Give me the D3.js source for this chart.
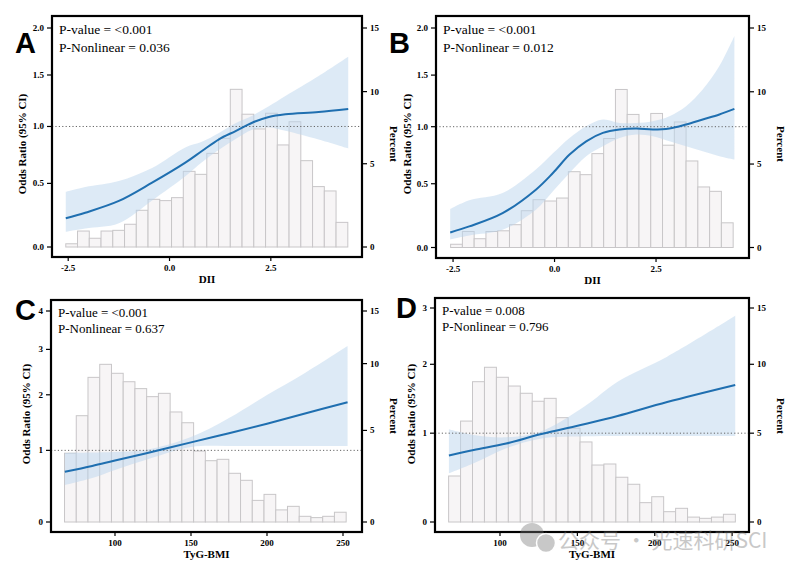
<!DOCTYPE html>
<html>
<head>
<meta charset="utf-8">
<script src="https://cdn.jsdelivr.net/npm/d3@7"></script>
<style>
body { margin: 0; background: #fff; }
svg { display: block; }
</style>
</head>
<body>
<div class="chart"></div>
<script>
// ---- histogram data (percent per bin) ----
const diiBinStart = -2.56, diiBinWidth = 0.29;
const diiPct = [0.18, 0.90, 0.49, 0.90, 0.94, 1.29, 2.11, 2.77, 2.69, 2.87, 4.51, 4.32,
                5.68, 6.69, 10.17, 8.36, 7.33, 8.43, 6.24, 7.83, 5.20, 3.55, 3.28, 1.40];
const tygBinStart = 66.8, tygBinWidth = 7.72;
const tygPctC = [3.58, 5.99, 8.86, 9.94, 9.19, 8.51, 7.97, 7.36, 7.61, 6.25, 5.51, 3.71,
                 3.14, 3.22, 2.43, 2.05, 1.02, 1.32, 0.56, 0.73, 0.26, 0.20, 0.26, 0.45];
const tygPctD = [2.41, 5.80, 8.63, 9.76, 8.97, 8.30, 7.76, 7.18, 7.39, 6.03, 5.32, 4.44,
                 3.04, 3.10, 2.34, 1.95, 0.97, 1.28, 0.51, 0.68, 0.24, 0.18, 0.24, 0.38];

// ---- spline curves: OR and 95% CI ----
const xA  = [-2.56, -2.08, -1.25, -0.43, 0.39, 0.80, 1.22, 1.63, 2.04, 2.45, 2.86, 3.68, 4.41];
const orA = [0.218, 0.262, 0.356, 0.506, 0.676, 0.778, 0.883, 0.958, 1.035, 1.089, 1.114, 1.136, 1.165];
const hiA = [0.43, 0.47, 0.52, 0.63, 0.81, 0.86, 0.94, 1.03, 1.10, 1.19, 1.29, 1.49, 1.69];
const loA = [0.115, 0.14, 0.18, 0.36, 0.56, 0.68, 0.79, 0.885, 0.97, 0.99, 0.96, 0.88, 0.80];

const xB  = [-2.57, -2.10, -1.28, -0.46, -0.04, 0.37, 0.78, 1.19, 1.60, 2.01, 2.42, 2.83, 3.24, 3.65, 4.06, 4.43];
const orB = [0.113, 0.159, 0.262, 0.451, 0.590, 0.749, 0.867, 0.943, 0.974, 0.983, 0.974, 0.983, 1.020, 1.067, 1.114, 1.167];
const hiB = [0.294, 0.364, 0.423, 0.619, 0.760, 0.897, 1.004, 1.067, 1.035, 1.035, 1.051, 1.098, 1.193, 1.356, 1.592, 1.912];
const loB = [0.060, 0.090, 0.133, 0.289, 0.437, 0.590, 0.734, 0.822, 0.897, 0.928, 0.913, 0.867, 0.822, 0.778, 0.734, 0.705];

const xC  = [67, 85, 100, 120, 150, 175, 200, 225, 253];
const orC = [0.671, 0.757, 0.840, 0.950, 1.130, 1.285, 1.452, 1.638, 1.852];
const hiC = [0.958, 0.965, 0.974, 1.006, 1.22, 1.555, 1.996, 2.458, 3.08];
const loC = [0.481, 0.580, 0.697, 0.848, 1.054, 1.071, 1.071, 1.071, 1.07];

const xD  = [67, 83, 104, 126, 155, 176, 208, 252];
const orD = [0.721, 0.788, 0.868, 0.985, 1.121, 1.229, 1.425, 1.676];
const hiD = [1.051, 0.977, 0.947, 1.019, 1.368, 1.726, 2.125, 2.852];
const loD = [0.512, 0.628, 0.809, 0.93, 0.96, 0.965, 0.965, 0.965];

const pValues = ['<0.001', '<0.001', '<0.001', '0.008'];
const pNonlinear = ['0.036', '0.012', '0.637', '0.796'];

// ---- panel layout ----
const panels = [
  {letter: 'A', lx: 15, ly: 53, box: [52, 16, 362, 257], xDom: [-2.90, 4.75], xTicks: [-2.5, 0, 2.5], xFmt: d => d.toFixed(1),
   xTitle: 'DII', orMax: 2, orConst: 4, pctConst: 30, y0: 247, y1: 28, orTicks: [0, 0.5, 1, 1.5, 2], orFmt: d => d.toFixed(1),
   pct: diiPct, binStart: diiBinStart, binWidth: diiBinWidth, cx: xA, or: orA, lo: loA, hi: hiA,
   ytx: 22, yty: 144, rty: 144, pDy: [18, 36], pSize: 13.5},
  {letter: 'B', lx: 389, ly: 53, box: [436, 16, 749, 258], xDom: [-2.92, 4.79], xTicks: [-2.5, 0, 2.5], xFmt: d => d.toFixed(1),
   xTitle: 'DII', orMax: 2, orConst: 4, pctConst: 30, y0: 247.5, y1: 28, orTicks: [0, 0.5, 1, 1.5, 2], orFmt: d => d.toFixed(1),
   pct: diiPct, binStart: diiBinStart, binWidth: diiBinWidth, cx: xB, or: orB, lo: loB, hi: hiB,
   ytx: 407, yty: 144, rty: 144, pDy: [18, 36], pSize: 13.5},
  {letter: 'C', lx: 15, ly: 320, box: [51, 300, 362, 532], xDom: [57.9, 262.5], xTicks: [100, 150, 200, 250], xFmt: d3.format('d'),
   xTitle: 'TyG-BMI', orMax: 4, orConst: 3, pctConst: 11.25, y0: 522, y1: 311, orTicks: [0, 1, 2, 3, 4], orFmt: d3.format('d'),
   pct: tygPctC, binStart: tygBinStart, binWidth: tygBinWidth, cx: xC, or: orC, lo: loC, hi: hiC,
   ytx: 26, yty: 414, rty: 416, pDy: [17, 33], pSize: 13},
  {letter: 'D', lx: 396, ly: 318, box: [435, 298, 749, 532], xDom: [58.0, 260.9], xTicks: [100, 150, 200, 250], xFmt: d3.format('d'),
   xTitle: 'TyG-BMI', orMax: 3, orConst: 3, pctConst: 15, y0: 522, y1: 308, orTicks: [0, 1, 2, 3], orFmt: d3.format('d'),
   pct: tygPctD, binStart: tygBinStart, binWidth: tygBinWidth, cx: xD, or: orD, lo: loD, hi: hiD,
   ytx: 411, yty: 414, rty: 416, pDy: [17, 33], pSize: 13}
];

const width = 800, height = 570;
const svg = d3.select('.chart').append('svg')
    .attr('width', width)
    .attr('height', height);

const serif = "'Liberation Serif', 'DejaVu Serif', serif";

panels.forEach(function(p, k) {
    const [bx0, by0, bx1, by1] = p.box;
    const g = svg.append('g');

    const x = d3.scaleLinear().domain(p.xDom).range([bx0, bx1]);
    const yL = d3.scaleSymlog().constant(p.orConst).domain([0, p.orMax]).range([p.y0, p.y1]);
    const yR = d3.scaleSymlog().constant(p.pctConst).domain([0, 15]).range([p.y0, p.y1]);

    // histogram
    g.selectAll('rect.bar')
        .data(p.pct)
        .enter()
        .append('rect')
        .attr('class', 'bar')
        .attr('x', (d, i) => x(p.binStart + i * p.binWidth))
        .attr('width', (d, i) => x(p.binStart + (i + 1) * p.binWidth) - x(p.binStart + i * p.binWidth))
        .attr('y', d => yR(d))
        .attr('height', d => yR(0) - yR(d))
        .attr('fill', '#f7f5f6')
        .attr('stroke', '#c8c6c8')
        .attr('stroke-width', 1);

    const pts = p.cx.map((v, i) => ({x: v, or: p.or[i], lo: p.lo[i], hi: p.hi[i]}));

    // confidence band
    const area = d3.area()
        .x(d => x(d.x))
        .y0(d => yL(d.lo))
        .y1(d => yL(d.hi))
        .curve(d3.curveCatmullRom.alpha(0.5));
    g.append('path')
        .datum(pts)
        .attr('d', area)
        .attr('fill', '#bcd6ee')
        .attr('fill-opacity', 0.5);

    // reference line at OR = 1
    g.append('line')
        .attr('x1', bx0).attr('x2', bx1)
        .attr('y1', yL(1)).attr('y2', yL(1))
        .attr('stroke', '#666')
        .attr('stroke-width', 1)
        .attr('stroke-dasharray', '1.2,2.2');

    // OR curve
    const line = d3.line()
        .x(d => x(d.x))
        .y(d => yL(d.or))
        .curve(d3.curveCatmullRom.alpha(0.5));
    g.append('path')
        .datum(pts)
        .attr('d', line)
        .attr('fill', 'none')
        .attr('stroke', '#1f6fb0')
        .attr('stroke-width', 2);

    // left axis (odds ratio)
    p.orTicks.forEach(function(t) {
        g.append('line')
            .attr('x1', bx0 - 5).attr('x2', bx0)
            .attr('y1', yL(t)).attr('y2', yL(t))
            .attr('stroke', '#000').attr('stroke-width', 1.2);
        g.append('text')
            .text(p.orFmt(t))
            .attr('x', bx0 - 8)
            .attr('y', yL(t) + 3)
            .attr('text-anchor', 'end')
            .attr('font-family', serif)
            .attr('font-weight', 'bold')
            .attr('font-size', 9);
    });

    // right axis (percent)
    [0, 5, 10, 15].forEach(function(t) {
        g.append('line')
            .attr('x1', bx1).attr('x2', bx1 + 5)
            .attr('y1', yR(t)).attr('y2', yR(t))
            .attr('stroke', '#000').attr('stroke-width', 1.2);
        g.append('text')
            .text(t)
            .attr('x', bx1 + 8)
            .attr('y', yR(t) + 3)
            .attr('font-family', serif)
            .attr('font-weight', 'bold')
            .attr('font-size', 9);
    });

    // bottom axis
    p.xTicks.forEach(function(t) {
        g.append('line')
            .attr('x1', x(t)).attr('x2', x(t))
            .attr('y1', by1).attr('y2', by1 + 4)
            .attr('stroke', '#000').attr('stroke-width', 1.2);
        g.append('text')
            .text(p.xFmt(t))
            .attr('x', x(t))
            .attr('y', by1 + 14)
            .attr('text-anchor', 'middle')
            .attr('font-family', serif)
            .attr('font-weight', 'bold')
            .attr('font-size', 9);
    });

    // frame
    g.append('rect')
        .attr('x', bx0).attr('y', by0)
        .attr('width', bx1 - bx0).attr('height', by1 - by0)
        .attr('fill', 'none')
        .attr('stroke', '#000')
        .attr('stroke-width', 2.2);

    // axis titles
    g.append('text')
        .text(p.xTitle)
        .attr('x', (bx0 + bx1) / 2)
        .attr('y', by1 + 26)
        .attr('text-anchor', 'middle')
        .attr('font-family', serif)
        .attr('font-weight', 'bold')
        .attr('font-size', 11);
    g.append('text')
        .text('Odds Ratio (95% CI)')
        .attr('transform', 'translate(' + (p.ytx + 4) + ',' + p.yty + ') rotate(-90)')
        .attr('text-anchor', 'middle')
        .attr('font-family', serif)
        .attr('font-weight', 'bold')
        .attr('font-size', 11);
    g.append('text')
        .text('Percent')
        .attr('transform', 'translate(' + (bx1 + 28) + ',' + p.rty + ') rotate(90)')
        .attr('text-anchor', 'middle')
        .attr('font-family', serif)
        .attr('font-weight', 'bold')
        .attr('font-size', 11);

    // p-values
    g.append('text')
        .text('P-value = ' + pValues[k])
        .attr('x', bx0 + 7)
        .attr('y', by0 + p.pDy[0])
        .attr('font-family', serif)
        .attr('font-size', p.pSize);
    g.append('text')
        .text('P-Nonlinear = ' + pNonlinear[k])
        .attr('x', bx0 + 7)
        .attr('y', by0 + p.pDy[1])
        .attr('font-family', serif)
        .attr('font-size', p.pSize);

    // panel letter
    g.append('text')
        .text(p.letter)
        .attr('x', p.lx)
        .attr('y', p.ly)
        .attr('font-family', "'Liberation Sans', Arial, sans-serif")
        .attr('font-weight', 'bold')
        .attr('font-size', 29);
});

// watermark (semi-transparent, drawn over the lower right panel as in the source)
const wm = svg.append('g').attr('opacity', 0.4);
wm.append('circle').attr('cx', 532).attr('cy', 535).attr('r', 12).attr('fill', '#777');
wm.append('circle').attr('cx', 546).attr('cy', 543).attr('r', 9.5).attr('fill', '#777')
    .attr('stroke', '#fff').attr('stroke-width', 1.5);
wm.append('text')
    .text('公众号 · 光速科研SCI')
    .attr('x', 558)
    .attr('y', 548)
    .attr('font-family', "'Noto Sans CJK SC', sans-serif")
    .attr('font-size', 21)
    .attr('fill', '#777');
</script>
</body>
</html>
